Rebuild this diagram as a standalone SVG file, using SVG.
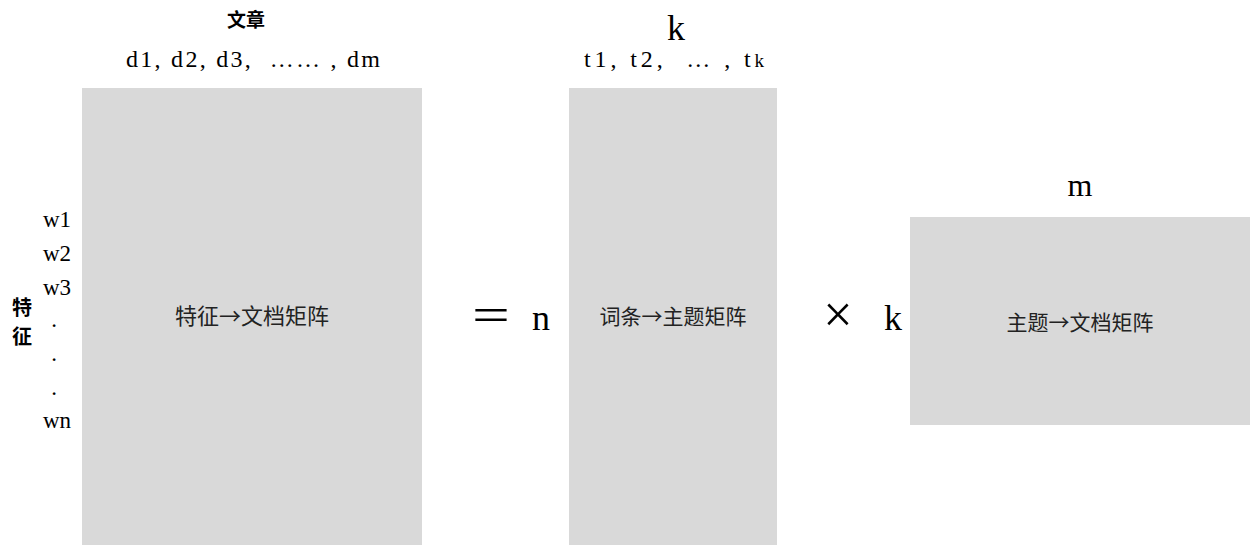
<svg xmlns="http://www.w3.org/2000/svg" width="1255" height="552" viewBox="0 0 1255 552">
<style>
.m{fill:#d9d9d9}
.s{font-family:"Liberation Serif","Noto Sans CJK SC",serif;fill:#000}
.c{font-family:"Noto Sans CJK SC",sans-serif;fill:#222}
.b{font-family:"Noto Sans CJK SC",sans-serif;font-weight:bold;fill:#000}
</style>
<rect width="1255" height="552" fill="#fff"/>
<g id="matrix-A">
<rect class="m" x="82" y="88" width="340" height="457"/>
<text class="c" x="252" y="324" font-size="22" text-anchor="middle">特征→文档矩阵</text>
</g>
<g id="matrix-B">
<rect class="m" x="569" y="88" width="208" height="457"/>
<text class="c" x="673" y="324" font-size="21" text-anchor="middle">词条→主题矩阵</text>
</g>
<g id="matrix-C">
<rect class="m" x="910" y="217" width="340" height="208"/>
<text class="c" x="1080" y="330" font-size="21" text-anchor="middle">主题→文档矩阵</text>
</g>
<g id="labels">
<text class="b" x="246" y="27" font-size="19" text-anchor="middle">文章</text>
<text class="s" x="126" y="67" font-size="24" textLength="254" lengthAdjust="spacing" xml:space="preserve">d1, d2, d3,  …… , dm</text>
<text class="s" x="676" y="40" font-size="36" text-anchor="middle">k</text>
<text class="s" x="584" y="67" font-size="24" textLength="180" lengthAdjust="spacing" xml:space="preserve">t1, t2,  … , t<tspan font-size="19">k</tspan></text>
<text class="s" x="1080" y="196" font-size="32" text-anchor="middle">m</text>
<text class="s" x="57" y="227" font-size="23" text-anchor="middle">w1</text>
<text class="s" x="57" y="261" font-size="23" text-anchor="middle">w2</text>
<text class="s" x="57" y="295" font-size="23" text-anchor="middle">w3</text>
<text class="s" x="54" y="327" font-size="23" text-anchor="middle">.</text>
<text class="s" x="54" y="361" font-size="23" text-anchor="middle">.</text>
<text class="s" x="54" y="395" font-size="23" text-anchor="middle">.</text>
<text class="s" x="57" y="428" font-size="23" text-anchor="middle">wn</text>
<text class="b" x="22" y="315" font-size="20" text-anchor="middle">特</text>
<text class="b" x="22" y="344" font-size="20" text-anchor="middle">征</text>
<text class="s" x="491" y="331" font-size="48" text-anchor="middle" transform="translate(491 0) scale(1.4 1) translate(-491 0)">=</text>
<text class="s" x="541" y="330" font-size="36" text-anchor="middle">n</text>
<text class="s" x="838" y="332" font-size="52" text-anchor="middle">×</text>
<text class="s" x="893" y="330" font-size="36" text-anchor="middle">k</text>
</g>
</svg>
